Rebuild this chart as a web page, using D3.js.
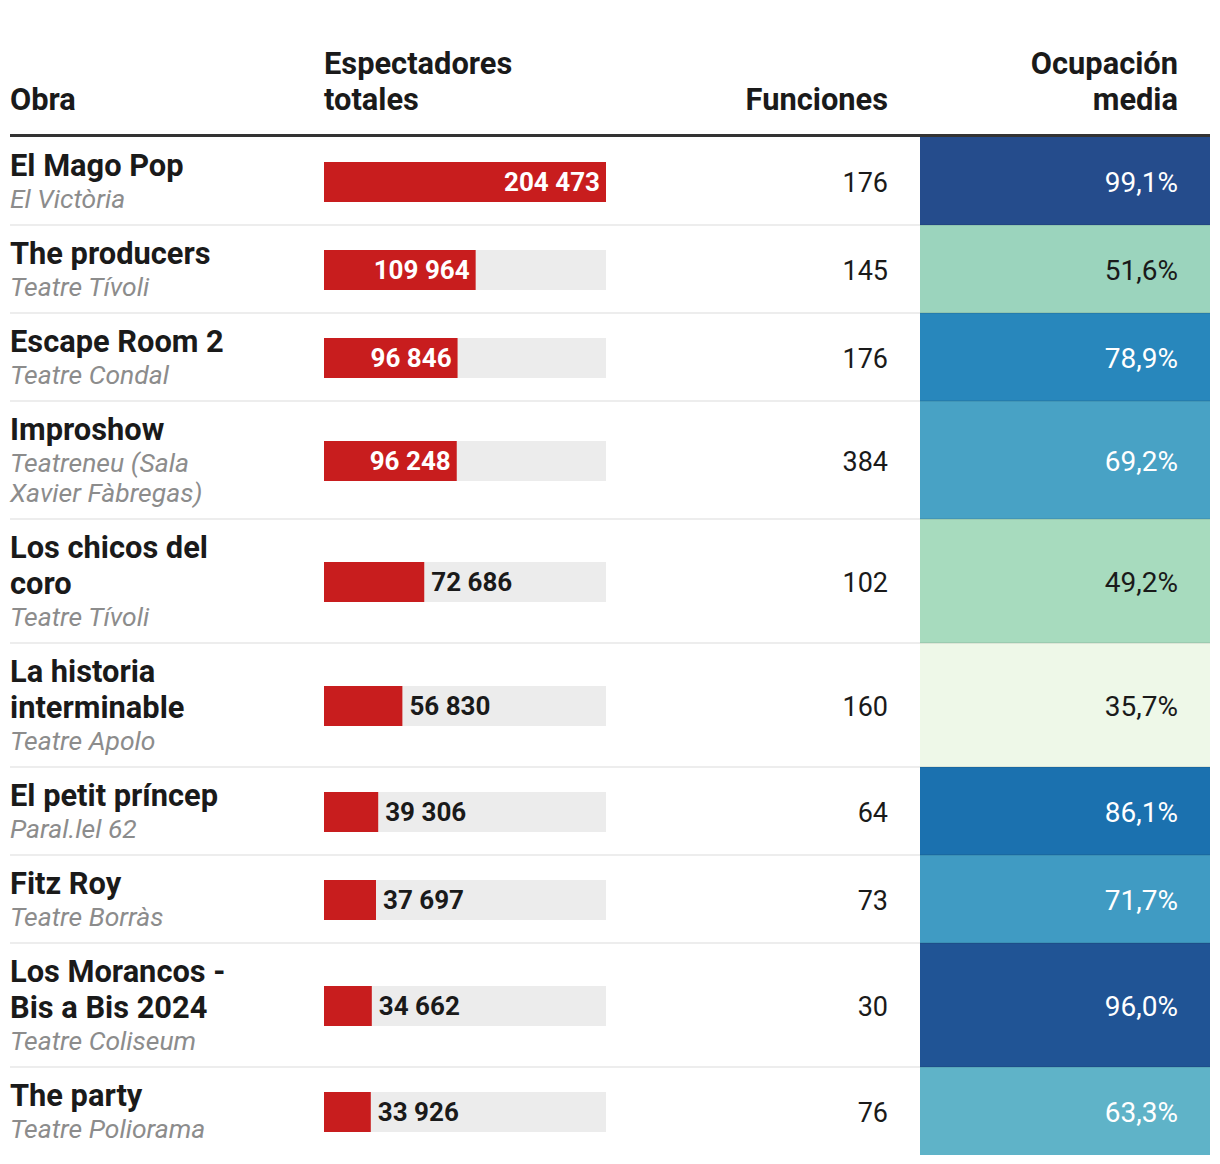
<!DOCTYPE html>
<html>
<head>
<meta charset="utf-8">
<script src="https://cdn.jsdelivr.net/npm/d3@7"></script>
<style>
  html, body { margin: 0; padding: 0; background: #fff; }
  svg { display: block; font-family: Roboto, "Noto Sans", sans-serif; }
</style>
</head>
<body>
<svg id="chart" width="1220" height="1164"></svg>
<script>
// ---- data ----
const obras = ["El Mago Pop", "The producers", "Escape Room 2", "Improshow", "Los chicos del coro",
  "La historia interminable", "El petit príncep", "Fitz Roy", "Los Morancos - Bis a Bis 2024", "The party"];
const teatros = ["El Victòria", "Teatre Tívoli", "Teatre Condal", "Teatreneu (Sala Xavier Fàbregas)",
  "Teatre Tívoli", "Teatre Apolo", "Paral.lel 62", "Teatre Borràs", "Teatre Coliseum", "Teatre Poliorama"];
const espectadores = [204473, 109964, 96846, 96248, 72686, 56830, 39306, 37697, 34662, 33926];
const funciones = [176, 145, 176, 384, 102, 160, 64, 73, 30, 76];
const ocupacion = [99.1, 51.6, 78.9, 69.2, 49.2, 35.7, 86.1, 71.7, 96.0, 63.3];
const headers = [["Obra"], ["Espectadores", "totales"], ["Funciones"], ["Ocupación", "media"]];
const colorStops = [35, 50, 65, 80, 90, 100];
const colorRange = ["#f2f9ea", "#a3d9bc", "#56aec9", "#2484bb", "#1565a8", "#274989"];

// ---- layout ----
const L = 10, R = 1210;
const barX0 = 324, barW = 282;
const funcRight = 888;
const cellX0 = 920, cellRight = 1178;
const nameLH = 36, subLH = 30;
const wrapW = 240;

const loc = d3.formatLocale({decimal: ",", thousands: " ", grouping: [3], currency: ["", ""]});
const fmtInt = loc.format(",d");
const fmtPct = v => loc.format(".1f")(v) + "%";

const svg = d3.select("#chart");
const x = d3.scaleLinear().domain([0, d3.max(espectadores)]).range([0, barW]);
const color = d3.scaleLinear().domain(colorStops).range(colorRange).interpolate(d3.interpolateRgb);

const nameFont = "font-size:30.8px;font-weight:700";
const subFont = "font-size:26.5px;font-style:italic;font-weight:400";

// helper: wrap text into lines using measurement
const measure = svg.append("text").attr("visibility", "hidden");
function wrap(str, font) {
  measure.attr("style", font);
  const words = str.split(" ");
  const lines = [];
  let cur = "";
  words.forEach(w => {
    const test = cur ? cur + " " + w : w;
    measure.text(test);
    if (measure.node().getComputedTextLength() > wrapW && cur) {
      lines.push(cur); cur = w;
    } else cur = test;
  });
  if (cur) lines.push(cur);
  return lines;
}

const rows = obras.map((o, i) => ({
  obra: o, teatro: teatros[i], esp: espectadores[i], fun: funciones[i], occ: ocupacion[i],
  nameLines: wrap(o, nameFont), subLines: wrap(teatros[i], subFont)
}));
measure.remove();

let y = 137;
rows.forEach(r => {
  r.y0 = y;
  r.h = 88 + (r.nameLines.length - 1) * nameLH + (r.subLines.length - 1) * subLH;
  y += r.h;
});

// ---- header ----
const hdr = svg.append("g").attr("fill", "#1a1a1a").style("font-size", "30.8px").style("font-weight", 700);
const hdrPos = [{x: L, anchor: "start"}, {x: barX0, anchor: "start"}, {x: funcRight, anchor: "end"}, {x: cellRight, anchor: "end"}];
headers.forEach((lines, i) => {
  const t = hdr.append("text").attr("text-anchor", hdrPos[i].anchor);
  lines.forEach((ln, j) => {
    t.append("tspan").attr("x", hdrPos[i].x).attr("y", 110 - (lines.length - 1 - j) * 36).text(ln);
  });
});

// ---- rows ----
const g = svg.selectAll("g.row").data(rows).join("g").attr("class", "row")
  .attr("transform", d => `translate(0,${d.y0})`);

// occupancy cell
g.append("rect").attr("x", cellX0).attr("y", 0).attr("width", R - cellX0).attr("height", d => d.h)
  .attr("fill", d => color(d.occ));

// name
g.append("text").attr("fill", "#1a1a1a").attr("style", nameFont)
  .each(function(d) {
    d3.select(this).selectAll("tspan").data(d.nameLines).join("tspan")
      .attr("x", L).attr("y", (ln, j) => 39 + j * nameLH).text(ln => ln);
  });
// theatre
g.append("text").attr("fill", "#8c8c8c").attr("style", subFont)
  .each(function(d) {
    const base = 39 + (d.nameLines.length - 1) * nameLH + 32;
    d3.select(this).selectAll("tspan").data(d.subLines).join("tspan")
      .attr("x", L).attr("y", (ln, j) => base + j * subLH).text(ln => ln);
  });

// bars
g.append("rect").attr("x", barX0).attr("y", d => d.h / 2 - 19).attr("width", barW).attr("height", 40).attr("fill", "#ececec");
g.append("rect").attr("x", barX0).attr("y", d => d.h / 2 - 19).attr("width", d => x(d.esp)).attr("height", 40).attr("fill", "#c81d1e");
g.append("text")
  .attr("y", d => d.h / 2 + 1)
  .attr("dy", "0.36em")
  .style("font-size", "26px").style("font-weight", 700)
  .text(d => fmtInt(d.esp))
  .each(function(d) {
    const w = this.getComputedTextLength();
    const bw = x(d.esp);
    const inside = bw > w + 40;
    d3.select(this)
      .attr("x", inside ? barX0 + bw - 6 : barX0 + bw + 7)
      .attr("text-anchor", inside ? "end" : "start")
      .attr("fill", inside ? "#fff" : "#1a1a1a");
  });

// funciones
g.append("text").attr("x", funcRight).attr("y", d => d.h / 2 + 1).attr("dy", "0.36em")
  .attr("text-anchor", "end").attr("fill", "#1a1a1a").style("font-size", "27px")
  .text(d => d.fun);

// occupancy text
g.append("text").attr("x", cellRight).attr("y", d => d.h / 2 + 1).attr("dy", "0.36em")
  .attr("text-anchor", "end").style("font-size", "28px")
  .attr("fill", d => d3.lab(color(d.occ)).l < 72 ? "#fff" : "#1a1a1a")
  .text(d => fmtPct(d.occ));

// separators
svg.selectAll("line.sep").data(rows.slice(0, -1)).join("line").attr("class", "sep")
  .attr("x1", L).attr("x2", R).attr("y1", d => d.y0 + d.h).attr("y2", d => d.y0 + d.h)
  .attr("stroke", "rgba(0,0,0,0.07)").attr("stroke-width", 2);

// header rule
svg.append("line").attr("x1", L).attr("x2", R).attr("y1", 135.5).attr("y2", 135.5)
  .attr("stroke", "#333").attr("stroke-width", 3);
</script>
</body>
</html>
